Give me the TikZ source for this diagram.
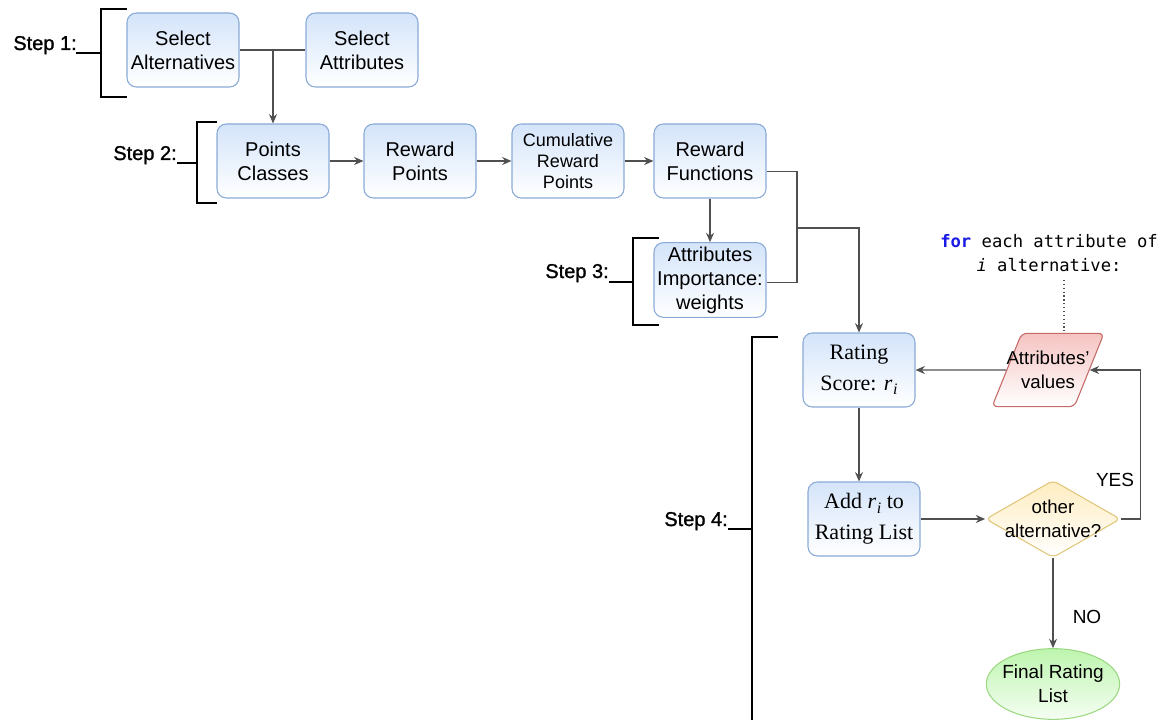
\documentclass[tikz,border=0pt]{standalone}
\usepackage{fontspec}
\setmainfont{Liberation Sans}
\newfontfamily\serifface{Liberation Serif}
\newfontfamily\stepface{Liberation Sans}[FakeBold=1.2]
\setmonofont{DejaVu Sans Mono}
\usetikzlibrary{arrows.meta,shapes.geometric,calc}
\definecolor{blueTop}{HTML}{D4E4FA}
\definecolor{blueLine}{HTML}{8AAAD6}
\definecolor{redTop}{HTML}{F5C4C2}
\definecolor{redLine}{HTML}{C56A66}
\definecolor{yelTop}{HTML}{FFEDC0}
\definecolor{yelLine}{HTML}{E0C67A}
\definecolor{grnTop}{HTML}{BDF5AE}
\definecolor{grnLine}{HTML}{9CD882}
\definecolor{wireGray}{HTML}{505050}
\definecolor{kwBlue}{HTML}{1A1AE6}
% italic r with subscript i, set in the serif text face
\newcommand\rsub{\textit{r}\kern0.5pt\raisebox{-0.45ex}{\fontsize{12}{12}\selectfont\textit{i}}}
\begin{document}
\begin{tikzpicture}[x=0.75pt,y=-0.75pt,
  txt/.style={font=\fontsize{15}{18}\selectfont},
  smalltxt/.style={font=\fontsize{13.5}{16}\selectfont},
  seriftxt/.style={font=\serifface\fontsize{16.5}{23}\selectfont},
  procbox/.style={draw=blueLine, line width=0.8pt, rounded corners=7pt,
    top color=blueTop, bottom color=white, align=center,
    minimum width=84pt, minimum height=55.5pt, inner sep=0pt},
  wire/.style={draw=wireGray, line width=0.9pt},
  arrow/.style={wire, -{Stealth[length=7pt,width=6pt]}},
  bracket/.style={draw=black, line width=1.5pt},
  steplbl/.style={font=\stepface\fontsize{15}{18}\selectfont, anchor=base east, inner sep=0pt},
  yesno/.style={font=\fontsize{14.25}{17}\selectfont, inner sep=0pt}
]
\useasboundingbox (0,0) rectangle (1162,720);

% ---- Step 1 ----
\node[procbox, txt] (sa)  at (183,50)  {Select\\Alternatives};
\node[procbox, txt] (sat) at (362,50)  {Select\\Attributes};
\draw[bracket] (127,9) -- (101,9) -- (101,97) -- (127,97);
\draw[bracket] (76,53) -- (101,53);
\node[steplbl] (s1) at (77,50) {Step 1:};

% ---- Step 2 ----
\node[procbox, txt] (pc)  at (273,161) {Points\\Classes};
\node[procbox, txt] (rp)  at (420,161) {Reward\\Points};
\node[procbox, smalltxt] (crp) at (568,161) {Cumulative\\Reward\\Points};
\node[procbox, txt] (rf)  at (710,161) {Reward\\Functions};
\draw[bracket] (217,122) -- (197,122) -- (197,203) -- (217,203);
\draw[bracket] (177,163) -- (197,163);
\node[steplbl] (s2) at (177,160) {Step 2:};

% ---- Step 3 ----
\node[procbox, txt, minimum height=56pt] (ai) at (710,280) {Attributes\\Importance:\\weights};
\draw[bracket] (659,238) -- (633,238) -- (633,325) -- (659,325);
\draw[bracket] (609,282) -- (633,282);
\node[steplbl] (s3) at (609,278) {Step 3:};

% ---- Step 4 ----
\node[procbox, seriftxt] (rs)  at (859,370) {Rating\\Score: \rsub};
\node[procbox, seriftxt] (add) at (864,519) {Add \rsub\ to\\Rating List};
\node[trapezium, trapezium left angle=82, trapezium right angle=98,
  trapezium stretches=true, minimum width=84pt, minimum height=55pt,
  inner sep=2pt, draw=redLine, line width=0.8pt, rounded corners=4pt,
  top color=redTop, bottom color=white,
  label={[font=\fontsize{14}{18}\selectfont, align=center]center:Attributes'\\values}]
  (av) at (1048,370) {\strut};
\node[diamond, minimum width=101pt, minimum height=58pt, inner sep=2pt,
  draw=yelLine, line width=0.8pt, rounded corners=4pt,
  top color=yelTop, bottom color=white,
  label={[font=\fontsize{14}{18}\selectfont, align=center]center:other\\alternative?}]
  (dec) at (1053,519) {\strut};
\node[ellipse, minimum width=100pt, minimum height=53pt, inner sep=1pt,
  draw=grnLine, line width=0.8pt, top color=grnTop, bottom color=white!85!grnTop,
  label={[font=\fontsize{14.25}{18}\selectfont, align=center]center:Final Rating\\List}]
  (fin) at (1053,684) {\strut};
\node[align=center, font=\ttfamily\fontsize{12.9}{18}\selectfont] (loop) at (1049,253)
  {\textcolor{kwBlue}{\textbf{for}} each attribute of\\\textit{i} alternative:};
\draw[bracket] (778,337) -- (752,337) -- (752,722);
\draw[bracket] (728,529) -- (752,529);
\node[steplbl] (s4) at (728,526) {Step 4:};

% ---- connectors ----
\draw[wire] (sa.east) -- (sat.west);
\draw[arrow] (pc.north |- sa.east) -- (pc.north);
\draw[arrow] (pc) -- (rp);
\draw[arrow] (rp) -- (crp);
\draw[arrow] (crp) -- (rf);
\draw[arrow] (rf.south) -- (ai.north);
\coordinate (jx) at (797,228);
\draw[wire] ([yshift=-8pt]rf.east) -| (jx) |- ([yshift=-2pt]ai.east);
\draw[arrow] (jx) -| (rs.north);
\draw[arrow] (av.west) -- (rs.east);
\draw[arrow] (rs.south) -- (rs.south |- add.north);
\draw[arrow] (add.east) -- (dec.west);
\draw[arrow] (dec.east) -- ++(20,0) |- (av.east);
\draw[arrow] (dec.south) -- (fin.north);
\coordinate (dtop) at (1064,280);
\draw[wire, dotted, line width=1.1pt] (dtop) -- (dtop |- av.north);
\node[yesno] (yes) at (1115,480) {YES};
\node[yesno] (no)  at (1087,617) {NO};
\end{tikzpicture}
\end{document}
